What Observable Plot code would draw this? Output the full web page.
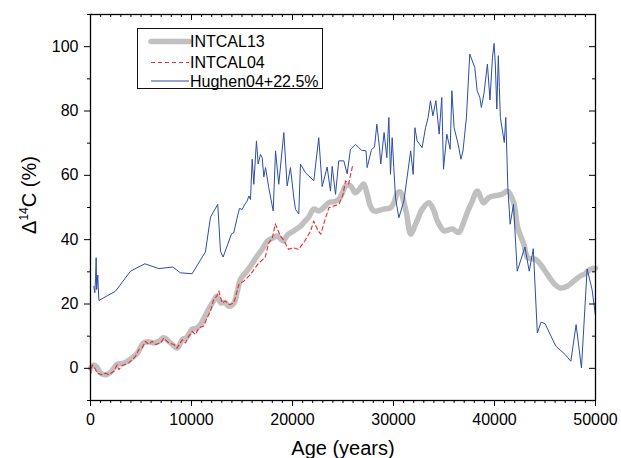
<!DOCTYPE html>
<html>
<head>
<meta charset="utf-8">
<script src="https://cdn.jsdelivr.net/npm/d3@7"></script>
<script src="https://cdn.jsdelivr.net/npm/@observablehq/plot@0.6"></script>
<style>
  html, body { margin: 0; padding: 0; background: #fff; }
  #wrap { position: relative; width: 621px; height: 458px; overflow: hidden; font-family: "Liberation Sans", Arial, sans-serif; }
  #wrap svg.plot { position: absolute; left: 0; top: 0; }
  g[aria-label="x-axis label"] text { font-size: 20px; }
  #ylabel { position: absolute; left: 29px; top: 195px; transform: translate(-50%, -50%) rotate(-90deg); font-size: 20px; white-space: nowrap; color: #000; line-height: 1; }
  #ylabel sup { font-size: 12px; vertical-align: 0; position: relative; top: -8px; }
  #legend { position: absolute; left: 137px; top: 28px; width: 186px; height: 61px; border: 1.5px solid #111; background: #fff; box-sizing: border-box; }
  #legend svg { position: absolute; left: 0; top: 0; }
</style>
</head>
<body>
<div id="wrap"></div>
<script>
// ---- data ----
const seriesNames = ["INTCAL13", "INTCAL04", "Hughen04+22.5%"];

const intcal13Age = [0,300,600,1000,1500,2000,2300,2650,3200,3650,4200,4650,5250,5700,6250,6800,7250,7900,8600,9100,9500,10000,10500,10900,11300,11700,12200,12500,12900,13300,13700,14200,14500,14850,15300,15850,16500,17000,17500,18100,18500,19100,19500,20100,20800,21100,21600,22100,22600,23100,23600,24100,24600,25000,25250,25750,26200,26700,27050,27400,27700,28000,28400,29000,29700,30100,30400,30700,31000,31300,31700,32200,32850,33500,34000,34350,35000,35400,35850,36450,36900,37300,37800,38300,38900,39400,39900,40400,40800,41300,41900,42300,42900,43300,44050,44500,44900,45500,46000,46500,47200,47800,48500,49000,49500,50000];
const intcal13D14C = [0,1.0,0.5,-1.5,-2.0,-1.2,0,1.3,1.5,2.2,3.5,4.8,7.9,8.3,7.9,8.5,9.5,8.0,6.3,9.0,9.5,12,12.5,13.7,16,18.4,21,22.4,20.3,20.5,19.3,20.3,23.5,27.7,29.5,31.8,34.9,37,39.5,40.6,41.1,39.6,41.5,42.7,44.2,45.3,47,49.5,48.9,50,51.5,51.8,52.6,55,56.7,56.7,54.6,56,57.3,54,50.5,49,48.9,49.5,49.9,52,54.6,54.8,52,48,41.7,44.9,49.5,51.5,49,45.8,42.7,43,43.3,42.2,45,48.4,52,55.1,51.5,53,53.6,53.8,54.2,55.1,51.5,43.7,38.6,34.4,33.9,32.5,30.8,28,26,25,25.5,27,28.7,29.5,30.8,31.2];

const intcal04Age = [0,170,430,660,1160,1500,1810,2310,2640,2800,3140,3790,4450,4780,5100,5440,5770,6100,6430,6930,7260,7760,8250,8580,9080,9400,9730,10070,10400,10720,11200,11550,11880,12200,12500,12710,13040,13370,13760,14190,14520,14690,15180,15840,16600,17300,17650,18000,18300,18800,19100,19600,20100,20600,21200,21800,22100,22500,22800,23200,23600,24100,24600,25000,25250,25550,25950];
const intcal04D14C = [-2,1.1,0.1,-1.5,-2,-1.5,-2,-0.9,1.1,-0.4,0.9,1.7,3.7,5.8,6.3,8.4,7.4,8.4,7.4,7.9,9.4,7.9,7.4,6.3,8.9,7.9,10,11.5,10.5,12.6,13.1,15.7,17.8,21.4,22.4,24,20.3,20.9,19.8,20.3,24,26.1,27.1,29.2,32.5,34.5,39,40.5,44.9,41.1,40,37,37.5,37,39.5,42.7,45.8,43,41.7,46,49.9,50.5,51,54,58.3,57.3,63];

const hughenAge = [330,430,500,560,610,660,720,770,830,2480,3960,5380,6770,8150,8900,10060,11380,11880,12600,12870,13130,13960,14190,14520,14750,15020,15280,15510,15680,15840,16010,16170,16430,16600,16830,17000,17160,17330,17650,18090,18320,18640,19140,19470,19800,20130,20300,20620,20790,21290,22110,22600,22940,23430,23760,23930,24260,24580,25080,25410,25740,26240,26830,27280,27390,27820,28120,28350,28610,28740,29070,29340,29540,29700,29870,30030,30200,30530,31030,31700,31950,32120,32340,32830,33170,33430,33660,33900,34200,34520,34780,34950,35280,35610,35780,36000,36400,36680,36880,37220,37550,38050,38280,38550,38700,38950,39300,39550,39800,39960,40080,40230,40380,40480,40580,40970,41120,41320,41550,41880,42250,43010,43440,43840,44240,44620,45020,46070,47000,47560,48080,48610,49170,49660,50000];
const hughenD14C = [25.5,23.5,28,34.4,24.5,26.2,29,25,21.1,24,30.2,32.5,31,31.5,29.7,29.4,36.2,47,51,36.4,34.6,41.8,42.2,46.8,49.7,49.4,51,52,53.6,52.5,65,57.2,70.7,63.5,66.5,65.5,59.5,62.4,56.2,48.9,67.6,57.2,73.3,56.7,62.4,53,49.4,48,63.5,60.8,58.3,71.7,56.5,62.6,55.1,62.8,54.1,64.5,64.5,60.5,68.1,69.6,67.8,67.6,62.4,68,68.8,75.9,68.6,63.5,73.3,65.5,78,60.3,71.7,62.4,53,46.8,52,67.6,60.3,74.8,70.7,68.6,74.8,78,83.2,78.5,83.2,72.8,84.2,61.9,72.8,68.1,86.3,74.8,69.7,65,67.6,78,97.7,93.5,86.3,84.2,81.1,85.3,94.6,83.4,96.7,101,94.6,80.6,97.2,87.3,78,70.2,78,56.2,44.8,51,30.2,37.7,30.2,37.2,11,14.4,13.8,6.9,4.3,2.2,13.6,0.1,30.9,24.5,16.4,18.3];

const xMajorTicks = [0, 10000, 20000, 30000, 40000, 50000];
const xMinorTicks = d3.range(0, 50001, 1000).filter(v => v % 10000 !== 0);
const yMajorTicks = [0, 20, 40, 60, 80, 100];
const yMinorTicks = [-10, 10, 30, 50, 70, 90, 110];

const colors = ["#c0c0c0", "#f2262a", "#2d4ea6"];

// ---- build rows ----
const toRows = (ages, vals) => ages.map((a, i) => ({age: a, v: vals[i]}));
const d13 = toRows(intcal13Age, intcal13D14C);
const d04 = toRows(intcal04Age, intcal04D14C);
const dH = toRows(hughenAge, hughenD14C);

const W = 621, H = 458, mL = 90, mR = 26, mT = 14, mB = 58;
const frameW = W - mL - mR, frameH = H - mT - mB;

const chart = Plot.plot({
  width: W, height: H,
  marginLeft: mL, marginRight: mR, marginTop: mT, marginBottom: mB,
  style: {fontFamily: "'Liberation Sans', Arial, sans-serif", fontSize: "16px", color: "#000", background: "transparent"},
  x: {domain: [0, 50000]},
  y: {domain: [-10, 110]},
  marks: [
    Plot.line(d13, {x: "age", y: "v", stroke: colors[0], strokeWidth: 5.5, curve: "catmull-rom"}),
    Plot.line(d04, {x: "age", y: "v", stroke: colors[1], strokeWidth: 1.1, strokeDasharray: "4,3"}),
    Plot.line(dH, {x: "age", y: "v", stroke: colors[2], strokeWidth: 1}),
    Plot.axisX({ticks: xMajorTicks, tickSize: 6, tickPadding: 7, tickFormat: "d", label: "Age (years)", labelAnchor: "center", labelArrow: "none", labelOffset: 54}),
    Plot.axisX({ticks: xMinorTicks, tickSize: 3, tickFormat: () => "", label: null}),
    Plot.axisY({ticks: yMajorTicks, tickSize: 6, tickPadding: 6, tickFormat: "d", label: null}),
    Plot.axisY({ticks: yMinorTicks, tickSize: 3, tickFormat: () => "", label: null}),
    Plot.ruleX(xMajorTicks, {x: d => d, insetBottom: frameH - 6, stroke: "#000"}),
    Plot.ruleX(xMinorTicks, {x: d => d, insetBottom: frameH - 3, stroke: "#000"}),
    Plot.ruleY(yMajorTicks, {y: d => d, insetLeft: frameW - 6, stroke: "#000"}),
    Plot.ruleY(yMinorTicks, {y: d => d, insetLeft: frameW - 3, stroke: "#000"}),
    Plot.frame({stroke: "#000", strokeWidth: 1.3})
  ]
});
chart.classList.add("plot");
const wrap = document.getElementById("wrap");
wrap.appendChild(chart);

// y axis title
const yl = document.createElement("div");
yl.id = "ylabel";
yl.innerHTML = "Δ<sup>14</sup>C (%)";
wrap.appendChild(yl);

// legend
const lg = document.createElement("div");
lg.id = "legend";
const rowsY = [12.5, 33.5, 52];
const dashes = [null, "4,3", null];
const widths = [5.5, 1.1, 1];
let s = `<svg width="186" height="61" xmlns="http://www.w3.org/2000/svg" style="font-family:'Liberation Sans', Arial, sans-serif; font-size:16px">`;
seriesNames.forEach((name, i) => {
  s += `<line x1="13" x2="51" y1="${rowsY[i]}" y2="${rowsY[i]}" stroke="${colors[i]}" stroke-width="${widths[i]}" ${dashes[i] ? `stroke-dasharray="${dashes[i]}"` : ""} ${i === 0 ? 'stroke-linecap="round"' : ""}/>`;
  s += `<text x="52" y="${rowsY[i] + 5.8}" fill="#000">${name}</text>`;
});
s += `</svg>`;
lg.innerHTML = s;
wrap.appendChild(lg);
</script>
</body>
</html>
